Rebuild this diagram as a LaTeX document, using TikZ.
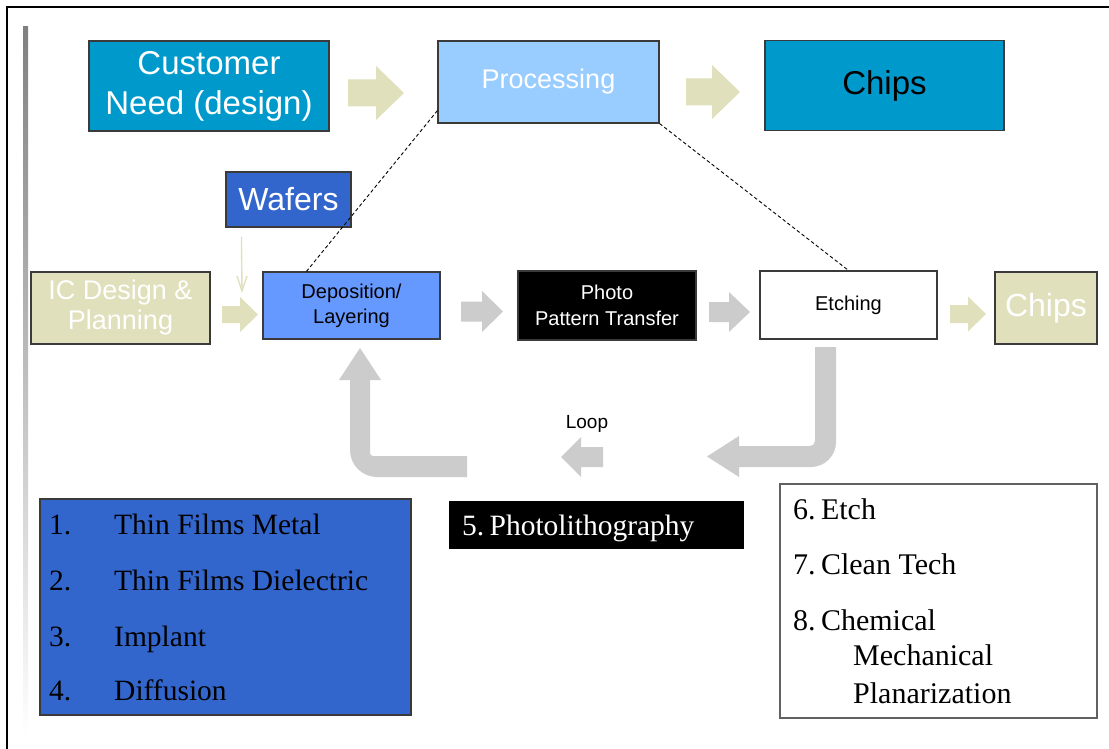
\documentclass[tikz,border=0pt]{standalone}
\usepackage{fontspec}
\setmainfont{Liberation Serif}
\newfontfamily\arialf{Liberation Sans}
\usetikzlibrary{calc}
\definecolor{cyanbox}{HTML}{0099CC}
\definecolor{skybox}{HTML}{99CCFF}
\definecolor{royal}{HTML}{3366CC}
\definecolor{cornflower}{HTML}{6699FF}
\definecolor{khaki}{HTML}{E0E0BC}
\definecolor{flowgray}{HTML}{CCCCCC}
\definecolor{edge}{HTML}{3A3A3A}
\definecolor{shade}{HTML}{F8F8F8}
\newcommand\fsz[2]{\fontsize{#1}{#2}\selectfont}
% right-pointing block arrow: colour, tail x, head base x, tip x, centre y, half shaft, half head
\newcommand\rblock[7]{\fill[#1] (#2,#5-#6) -- (#3,#5-#6) -- (#3,#5-#7) -- (#4,#5)
  -- (#3,#5+#7) -- (#3,#5+#6) -- (#2,#5+#6) -- cycle;}
\begin{document}
\begin{tikzpicture}[x=1pt,y=-1pt,
  box/.style={draw=edge, line width=1.1pt, inner sep=0pt, align=center},
  listline/.style={anchor=base west, inner sep=0pt, font=\fsz{29.5}{34}},
  itemline/.style={anchor=base west, inner sep=0pt, font=\fsz{30}{34}},
  guide/.style={dash pattern=on 3.5pt off 2.5pt, line width=0.9pt, black}]
\useasboundingbox (0,0) rectangle (1109,749);
\fill[white] (0,0) rectangle (1109,749);
\fill[shade] (23,27) rectangle (28,735);
\draw[line width=2.2pt] (7,749) -- (7,7) -- (1109,7);

% top row
\node[box, fill=cyanbox, text=white, minimum width=240pt, minimum height=90pt,
      font=\arialf\fsz{33}{40}] (need) at (209,86) {Customer\\Need (design)};
\node[box, fill=skybox, text=white, minimum width=221pt, minimum height=82pt,
      font=\arialf\fsz{27}{32}] (proc) at (548.5,82) {Processing};
\node[box, fill=cyanbox, text=black, minimum width=239pt, minimum height=90pt,
      font=\arialf\fsz{33}{40}] (chipsA) at (884.5,85.5) {Chips};
\rblock{khaki}{348}{376}{404}{93}{13.5}{27}
\rblock{khaki}{686}{712}{740}{92}{13.5}{27}

% wafers
\node[box, fill=royal, text=white, minimum width=125pt, minimum height=55pt,
      font=\arialf\fsz{32}{38}] (wafers) at (288.5,199.5) {Wafers};

% process row
\node[box, fill=khaki, text=white, minimum width=179pt, minimum height=72pt,
      font=\arialf\fsz{27}{30}] (ic) at (120.5,308) {IC Design \&\\Planning};
\node[box, fill=cornflower, text=black, minimum width=177pt, minimum height=67pt,
      font=\arialf\fsz{20}{25}] (dep) at (351.5,305.5) {Deposition/\\Layering};
\node[box, fill=black, text=white, minimum width=178pt, minimum height=69pt,
      font=\arialf\fsz{20}{26}] (photo) at (607,305.5) {Photo\\Pattern Transfer};
\node[box, fill=white, text=black, minimum width=177pt, minimum height=68pt,
      font=\arialf\fsz{20}{25}] (etch) at (848.5,305) {Etching};
\node[box, fill=khaki, text=white, minimum width=102pt, minimum height=72pt,
      font=\arialf\fsz{32}{38}] (chipsB) at (1046,308) {Chips};
\rblock{khaki}{222}{240}{258}{314.5}{8.5}{17.5}
\rblock{flowgray}{461}{482}{503}{311.5}{10}{20.5}
\rblock{flowgray}{709}{729}{750}{312}{10}{20}
\rblock{khaki}{950}{968}{986}{314}{9}{17.5}

% wafers feed into deposition
\coordinate (wtip) at (242,291);
\draw[khaki, line width=1.4pt] ($(wafers.south west)+(16,9)$) -- (wtip);
\draw[khaki, line width=1.4pt] ($(wtip)+(-5,-15)$) -- (wtip) -- ($(wtip)+(5,-15)$);

% links from processing to the process row
\draw[guide] ($(proc.south west)+(0,-13)$) -- ($(dep.north west)+(44,0)$);
\draw[guide] (proc.south east) -- (etch.north);

% loop arrows
\fill[flowgray] (815,347) -- (836,347) -- (836,442)
  .. controls (836,455.8) and (824.8,467) .. (811,467) -- (739,467) -- (739,477)
  -- (707,456.5) -- (739,436) -- (739,446) -- (810,446)
  .. controls (812.8,446) and (815,443.8) .. (815,441) -- cycle;
\fill[flowgray] (360,348) -- (381,380) -- (370,380) -- (370,453)
  .. controls (370,454.7) and (371.3,456) .. (373,456) -- (467,456) -- (467,477)
  -- (377,477) .. controls (362.1,477) and (350,464.9) .. (350,450)
  -- (350,380) -- (339,380) -- cycle;
\fill[flowgray] (561,457) -- (581,437) -- (581,447) -- (603,447) -- (603,467)
  -- (581,467) -- (581,477) -- cycle;
\node[font=\arialf\fsz{19}{22}, inner sep=0pt] (loop) at (587,424) {Loop};

% step lists
\node[draw=edge, line width=1.1pt, fill=royal, minimum width=371pt, minimum height=216pt,
      inner sep=0pt] (films) at (225.5,607) {};
\node[listline] (n1) at (49,534) {1.};
\node[listline] (t1) at (114,534) {Thin Films Metal};
\node[listline] (n2) at (49,590) {2.};
\node[listline] (t2) at (114,590) {Thin Films Dielectric};
\node[listline] (n3) at (49,646) {3.};
\node[listline] (t3) at (114,646) {Implant};
\node[listline] (n4) at (49,700) {4.};
\node[listline] (t4) at (114,700) {Diffusion};

\node[fill=black, minimum width=295pt, minimum height=48pt, inner sep=0pt] (litho) at (596.5,525) {};
\node[listline, text=white] (t5) at (462,535) {5.\hspace{0.18em}Photolithography};

\node[draw=edge!80, line width=1.1pt, fill=white, minimum width=317pt, minimum height=234pt,
      inner sep=0pt] (etchlist) at (938.5,601) {};
\node[itemline] (t6) at (793,519) {6.\hspace{0.18em}Etch};
\node[itemline] (t7) at (793,574) {7.\hspace{0.18em}Clean Tech};
\node[itemline] (t8) at (793,630) {8.\hspace{0.18em}Chemical};
\node[itemline] (t8b) at (853,665) {Mechanical};
\node[itemline] (t8c) at (853,703) {Planarization};
\end{tikzpicture}
\end{document}
